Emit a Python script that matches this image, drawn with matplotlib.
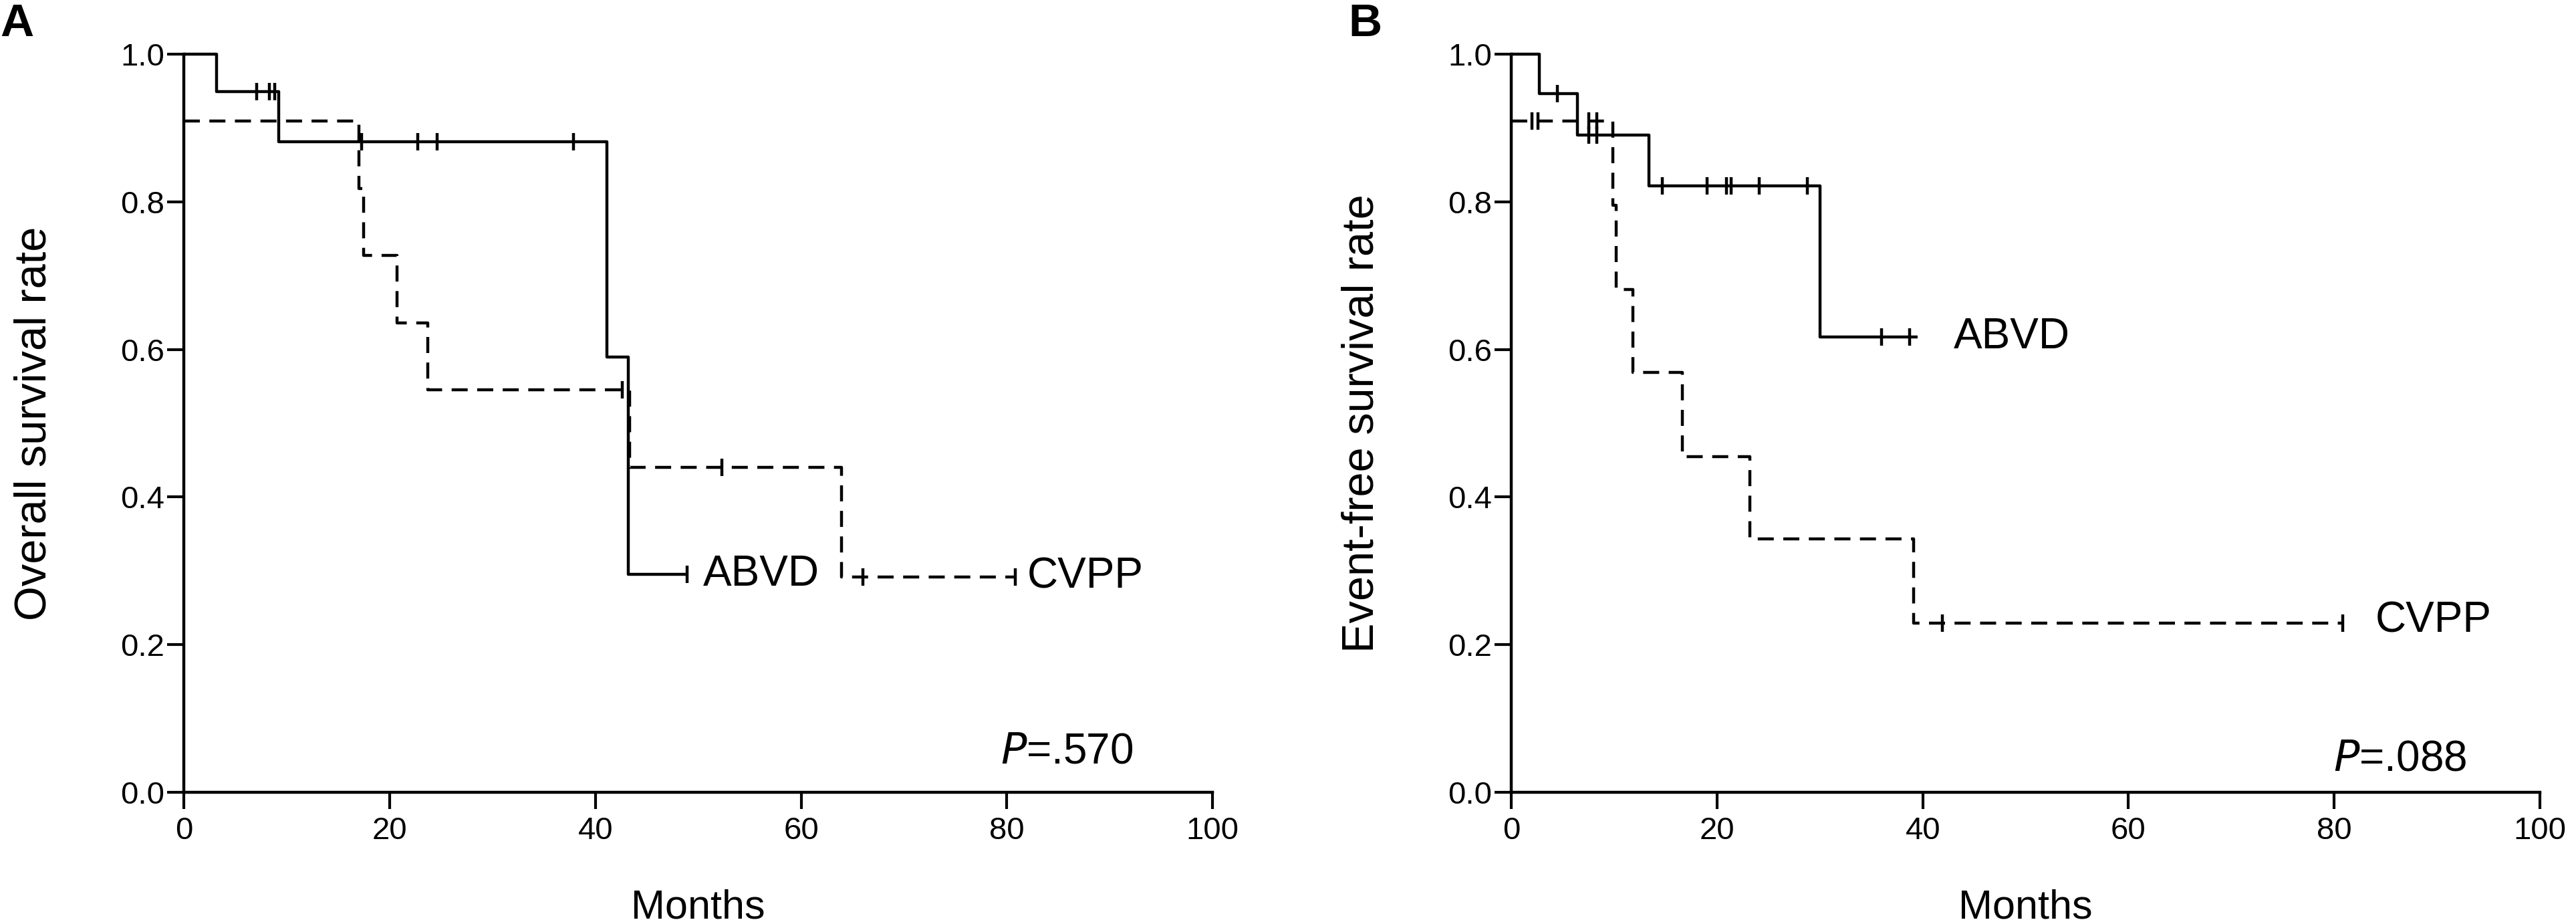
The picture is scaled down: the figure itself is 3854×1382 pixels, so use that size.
import matplotlib
matplotlib.use("Agg")
import matplotlib.pyplot as plt
import numpy as np

plt.rcParams['font.family'] = ['Liberation Sans', 'DejaVu Sans']

# ---- Panel A: overall survival ----
abvd_os_t = [0, 3.2, 9.2, 41.1, 43.2, 49.0]
abvd_os_s = [1.0, 0.949, 0.881, 0.590, 0.295, 0.295]
abvd_os_cens = [7.1, 8.3, 8.8, 17.3, 22.7, 24.6, 37.9, 48.9]

cvpp_os_t = [0, 17.0, 17.5, 20.7, 23.7, 43.3, 63.9, 80.8]
cvpp_os_s = [0.909, 0.818, 0.727, 0.636, 0.545, 0.440, 0.292, 0.292]
cvpp_os_cens = [42.6, 52.3, 66.0, 80.8]

# ---- Panel B: event-free survival ----
abvd_efs_t = [0, 2.7, 6.4, 13.4, 30.0, 39.5]
abvd_efs_s = [1.0, 0.947, 0.890, 0.822, 0.617, 0.617]
abvd_efs_cens = [4.5, 7.5, 8.3, 14.7, 19.0, 20.9, 21.4, 24.1, 28.8, 36.0, 38.7]

cvpp_efs_t = [0, 9.85, 10.2, 11.8, 16.6, 23.2, 39.1, 80.8]
cvpp_efs_s = [0.909, 0.795, 0.681, 0.569, 0.455, 0.343, 0.229, 0.229]
cvpp_efs_cens = [2.0, 2.6, 7.5, 8.3, 41.9, 80.8]

x_ticks = [0, 20, 40, 60, 80, 100]
y_ticks = [0.0, 0.2, 0.4, 0.6, 0.8, 1.0]

LW = 3.2
DASH = (0, (5.4, 3.2))


def step_value(t, s, x):
    idx = np.searchsorted(t, x, side='right') - 1
    return np.asarray(s)[idx]


def draw_curve(ax, t, s, cens, ls):
    ax.step(t, s, where='post', color='black', lw=LW, linestyle=ls,
            clip_on=False, solid_capstyle='butt', dash_capstyle='butt')
    cy = step_value(t, s, cens)
    ax.plot(cens, cy, linestyle='none', marker='|', color='black',
            markersize=19, markeredgewidth=3.2, clip_on=False)


def style_axes(ax, ylabel):
    ax.set_xlim(0, 100)
    ax.set_ylim(0, 1.0)
    ax.set_xticks(x_ticks)
    ax.set_yticks(y_ticks)
    ax.set_xticklabels([str(v) for v in x_ticks])
    ax.set_yticklabels([f"{v:.1f}" for v in y_ticks])
    for sp in ['top', 'right']:
        ax.spines[sp].set_visible(False)
    for sp in ['left', 'bottom']:
        ax.spines[sp].set_linewidth(3.2)
    ax.tick_params(axis='both', direction='out', length=18, width=3.0,
                   labelsize=34)
    ax.tick_params(axis='x', pad=8)
    ax.tick_params(axis='y', pad=3)
    ax.set_xlabel('Months', fontsize=44, labelpad=46)
    ax.set_ylabel(ylabel, fontsize=48, labelpad=70)


fig = plt.figure(figsize=(38.54, 13.82), dpi=100)
axA = fig.add_axes([0.0714, 0.1425, 0.3993, 0.7989])
axB = fig.add_axes([0.5867, 0.1425, 0.3993, 0.7989])

draw_curve(axA, abvd_os_t, abvd_os_s, abvd_os_cens, '-')
draw_curve(axA, cvpp_os_t, cvpp_os_s, cvpp_os_cens, DASH)
style_axes(axA, 'Overall survival rate')
axA.text(50.5, 0.295, 'ABVD', fontsize=46, va='center', ha='left')
axA.text(82.0, 0.292, 'CVPP', fontsize=46, va='center', ha='left')
axA.text(79.4, 0.055, r'$\it{P}$' + '=.570', fontsize=46, va='center', ha='left')

draw_curve(axB, abvd_efs_t, abvd_efs_s, abvd_efs_cens, '-')
draw_curve(axB, cvpp_efs_t, cvpp_efs_s, cvpp_efs_cens, DASH)
style_axes(axB, 'Event-free survival rate')
axB.text(43.0, 0.617, 'ABVD', fontsize=46, va='center', ha='left')
axB.text(84.0, 0.232, 'CVPP', fontsize=46, va='center', ha='left')
axB.text(79.9, 0.045, r'$\it{P}$' + '=.088', fontsize=46, va='center', ha='left')

fig.text(0.0, 0.997, 'A', fontsize=50, fontweight='bold', va='top', ha='left')
fig.text(0.5235, 0.997, 'B', fontsize=50, fontweight='bold', va='top', ha='left')

fig.savefig('out.png', dpi=100, facecolor='white')
